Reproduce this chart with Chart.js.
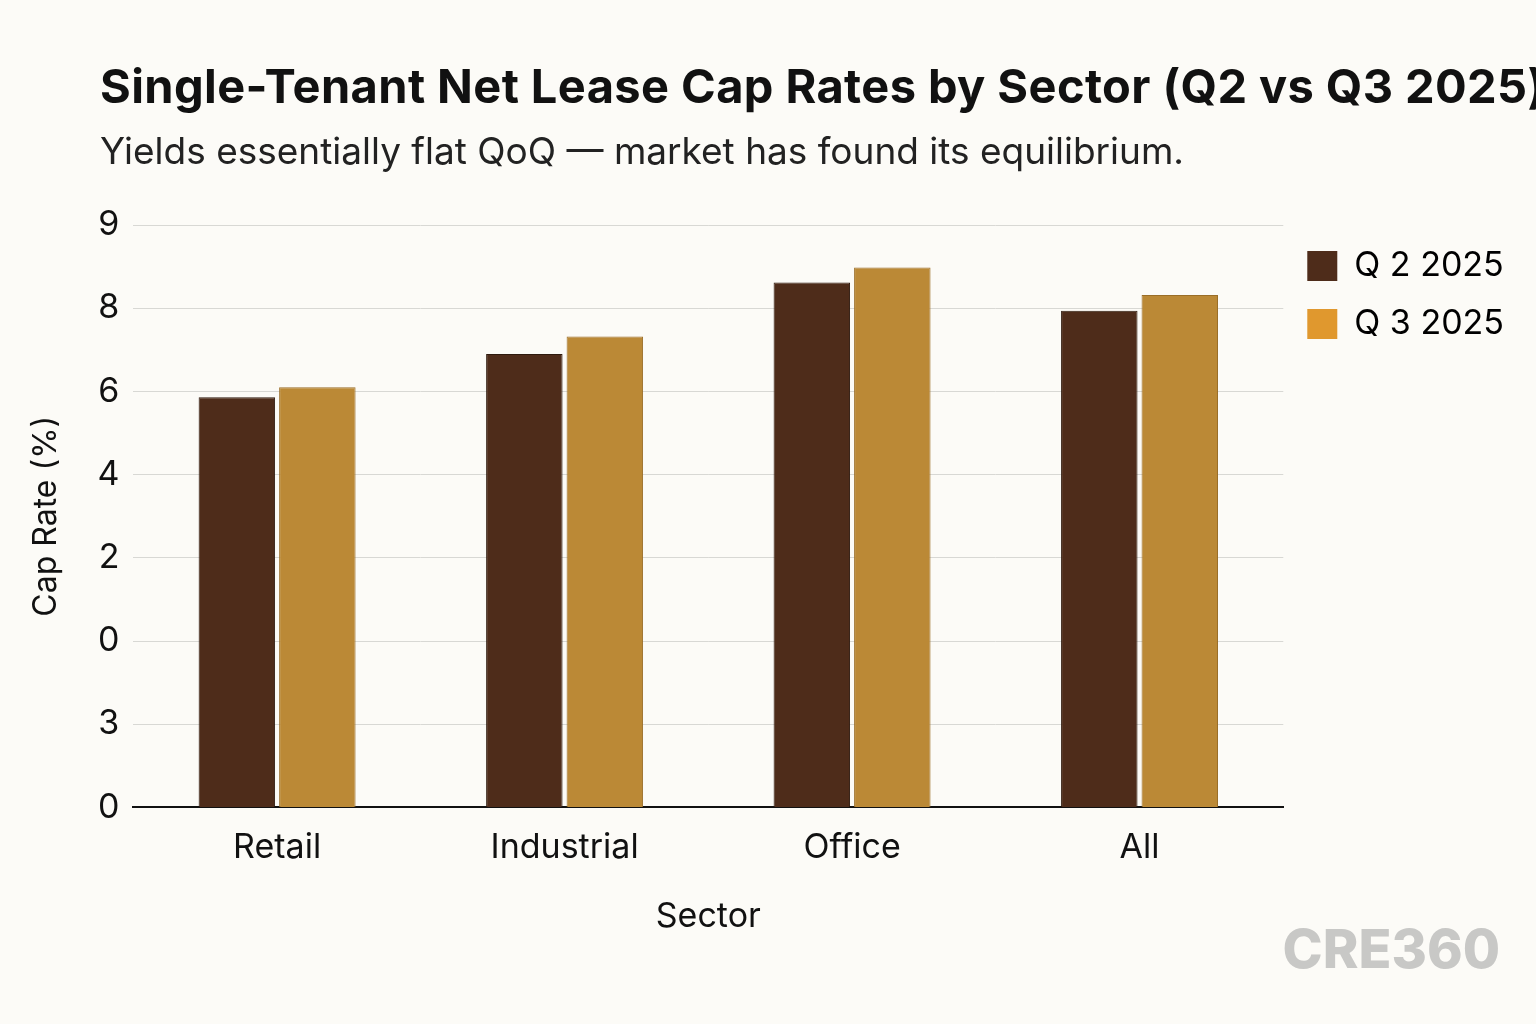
<!DOCTYPE html>
<html>
<head>
<meta charset="utf-8">
<script src="https://cdn.jsdelivr.net/npm/chart.js@4"></script>
<style>
  body { margin: 0; background: #fcfbf7; font-family: Inter, "Noto Sans", sans-serif; }
  #wrap { position: relative; width: 1536px; height: 1024px; overflow: hidden; }
  #title { position: absolute; left: 100px; top: 57px; font-size: 47px; font-weight: 700; color: #111; white-space: nowrap; letter-spacing: 0.4px; }
  #subtitle { position: absolute; left: 100px; top: 128px; font-size: 37px; color: #222; white-space: nowrap; }
  #mark { position: absolute; right: 36px; top: 916px; font-size: 54px; font-weight: 800; color: #c8c8c6; }
</style>
</head>
<body>
<div id="wrap">
  <canvas id="chart" width="1536" height="1024"></canvas>
  <div id="title">Single-Tenant Net Lease Cap Rates by Sector (Q2 vs Q3 2025)</div>
  <div id="subtitle">Yields essentially flat QoQ — market has found its equilibrium.</div>
  <div id="mark">CRE360</div>
</div>
<script>
// sectors and the two quarters (values in grid steps, as drawn on the picture)
const sectors = ["Retail", "Industrial", "Office", "All"];
const q2Values = [4.93, 5.45, 6.31, 5.97];
const q3Values = [5.05, 5.66, 6.49, 6.16];
// the y tick labels as printed, bottom to top
const yTickLabels = ["0", "3", "0", "2", "4", "6", "8", "9"];

const q2Color = "#4e2c1a";
const q3Color = "#bb8936";

document.addEventListener("DOMContentLoaded", () => {
    Chart.defaults.font.family = "Inter, 'Noto Sans', sans-serif";
    Chart.defaults.color = "#111";

    new Chart(document.getElementById("chart"), {
        type: "bar",
        data: {
            labels: sectors,
            datasets: [
                { label: "Q 2 2025", data: q2Values, backgroundColor: q2Color, borderColor: "#2e1a0e", borderWidth: 1 },
                { label: "Q 3 2025", data: q3Values, backgroundColor: q3Color, borderColor: "#9a6e28", borderWidth: 1 }
            ]
        },
        options: {
            responsive: false,
            animation: false,
            categoryPercentage: 0.56,
            barPercentage: 0.95,
            layout: { padding: { top: 225, left: 23, right: 22, bottom: 83 } },
            plugins: {
                legend: {
                    position: "right",
                    align: "start",
                    labels: {
                        font: { size: 34 },
                        boxWidth: 30, boxHeight: 30, padding: 24,
                        generateLabels: (chart) => [
                            { text: "Q 2 2025", fillStyle: q2Color, strokeStyle: q2Color, lineWidth: 0, datasetIndex: 0 },
                            { text: "Q 3 2025", fillStyle: "#e0982e", strokeStyle: "#e0982e", lineWidth: 0, datasetIndex: 1 }
                        ]
                    }
                },
                tooltip: { enabled: false }
            },
            scales: {
                x: {
                    grid: { display: false },
                    border: { color: "#111", width: 2 },
                    ticks: { font: { size: 34 }, padding: 12 },
                    title: { display: true, text: "Sector", font: { size: 34 }, padding: { top: 16 } }
                },
                y: {
                    min: 0, max: 7,
                    grid: { color: "#d8d8d4", drawTicks: false },
                    border: { display: false },
                    ticks: { stepSize: 1, font: { size: 34 }, padding: 14, callback: (v) => yTickLabels[v] },
                    title: { display: true, text: "Cap Rate (%)", font: { size: 32 }, padding: { bottom: 18 } }
                }
            }
        }
    });
});
</script>
</body>
</html>
